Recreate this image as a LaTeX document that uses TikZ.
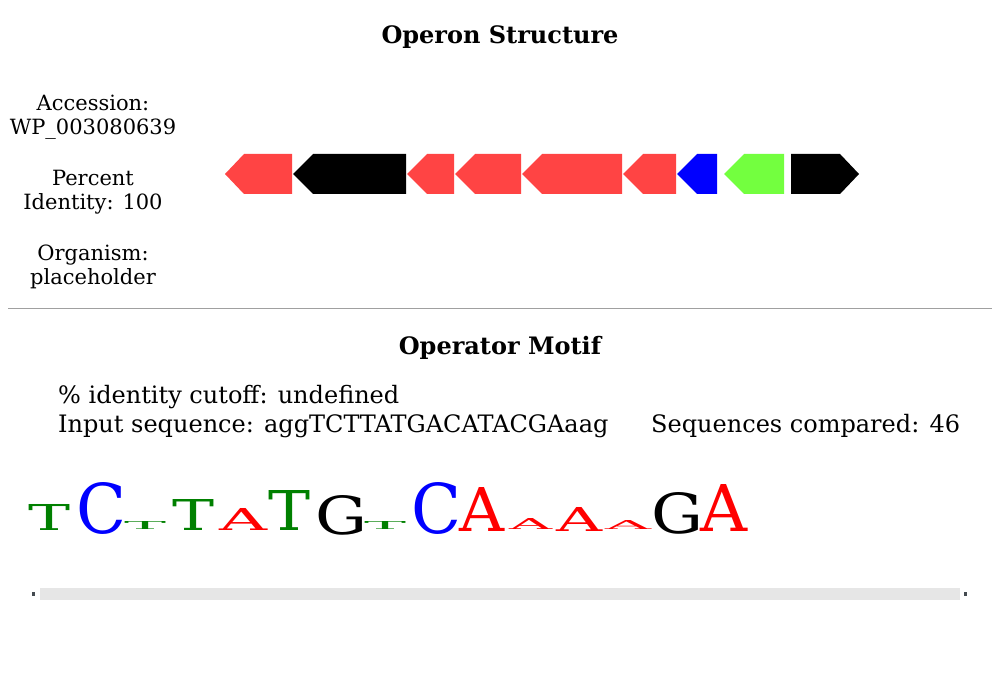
\documentclass[tikz,border=0pt]{standalone}
\usepackage{fontspec}
\setmainfont{DejaVu Serif}
\usepackage{graphicx}
\definecolor{gred}{HTML}{FF4444}
\definecolor{ggreen}{HTML}{73FF3F}
\definecolor{gblue}{HTML}{0000FF}
\definecolor{lgreen}{HTML}{008000}
\definecolor{lblue}{HTML}{0000FF}
\definecolor{lred}{HTML}{FF0000}
\definecolor{barbg}{HTML}{E6E6E6}
\definecolor{rulec}{HTML}{A0A0A0}
\definecolor{dotc}{HTML}{444A50}
\tikzset{
  lefttxt/.style={font=\fontsize{21}{24}\selectfont, anchor=base, inner sep=0},
  bodytxt/.style={font=\fontsize{24}{28}\selectfont, anchor=base west, inner sep=0},
  titletxt/.style={font=\bfseries\fontsize{24}{28}\selectfont, anchor=base, inner sep=0},
  letter/.style={inner sep=0, anchor=south west},
}
\newcommand\glyphbox[4]{\resizebox{#1pt}{#2pt}{\textcolor{#3}{#4}}}
\begin{document}
\begin{tikzpicture}[x=1pt,y=-1pt]
\useasboundingbox (0,0) rectangle (1000,700);
\fill[white] (0,0) rectangle (1000,700);
% titles
\node[titletxt] (t1) at (500,44) {Operon Structure};
\node[titletxt] (t2) at (500,354) {Operator Motif};
% left info
\node[lefttxt] (a1) at (93,111) {Accession:};
\node[lefttxt] (a2) at (93,135) {WP\_003080639};
\node[lefttxt] (p1) at (93,186) {Percent};
\node[lefttxt] (p2) at (93,210) {Identity: 100};
\node[lefttxt] (o1) at (93,261) {Organism:};
\node[lefttxt] (o2) at (93,285) {placeholder};
% genes
\fill[gred]   (225,174) -- (244,154) -- (292,154) -- (292,194) -- (244,194) -- cycle;
\fill[black]  (293,174) -- (313,154) -- (406,154) -- (406,194) -- (313,194) -- cycle;
\fill[gred]   (407,174) -- (427,154) -- (454,154) -- (454,194) -- (427,194) -- cycle;
\fill[gred]   (455,174) -- (475,154) -- (521,154) -- (521,194) -- (475,194) -- cycle;
\fill[gred]   (522,174) -- (542,154) -- (622,154) -- (622,194) -- (542,194) -- cycle;
\fill[gred]   (623,174) -- (643,154) -- (676,154) -- (676,194) -- (643,194) -- cycle;
\fill[gblue]  (677,174) -- (697,154) -- (717,154) -- (717,194) -- (697,194) -- cycle;
\fill[ggreen] (724,174) -- (744,154) -- (784,154) -- (784,194) -- (744,194) -- cycle;
\fill[black]  (791,154) -- (840,154) -- (859,174) -- (840,194) -- (791,194) -- cycle;
% separator
\draw[rulec, line width=1pt] (8,308) -- (992,308);
% motif info
\node[bodytxt] (c1) at (58,403) {\% identity cutoff: undefined};
\node[bodytxt] (c2) at (58,432) {Input sequence: aggTCTTATGACATACGAaag};
\node[bodytxt] (c3) at (651,432) {Sequences compared: 46};
% logo
\node[letter] (l1)  at (28,531)  {\glyphbox{42}{26}{lgreen}{T}};
\node[letter] (l2)  at (76,535)  {\glyphbox{50}{51}{lblue}{C}};
\node[letter] (l3)  at (124,530) {\glyphbox{42}{8}{lgreen}{T}};
\node[letter] (l4)  at (172,531) {\glyphbox{42}{31}{lgreen}{T}};
\node[letter] (l5)  at (219,531) {\glyphbox{48}{22}{lred}{A}};
\node[letter] (l6)  at (268,531) {\glyphbox{42}{40}{lgreen}{T}};
\node[letter] (l7)  at (315,535) {\glyphbox{52}{39}{black}{G}};
\node[letter] (l8)  at (364,530) {\glyphbox{42}{8}{lgreen}{T}};
\node[letter] (l9)  at (411,535) {\glyphbox{50}{51}{lblue}{C}};
\node[letter] (l10) at (459,532) {\glyphbox{45}{44}{lred}{A}};
\node[letter] (l11) at (509,530) {\glyphbox{43}{11}{lred}{A}};
\node[letter] (l12) at (556,532) {\glyphbox{46}{24}{lred}{A}};
\node[letter] (l13) at (605,530) {\glyphbox{46}{9}{lred}{A}};
\node[letter] (l14) at (651,534) {\glyphbox{52}{41}{black}{G}};
\node[letter] (l15) at (700,532) {\glyphbox{47}{47}{lred}{A}};
% slider bar
\fill[barbg] (40,588) rectangle (960,600);
\fill[dotc] (32,592) rectangle (35,596);
\fill[dotc] (964,592) rectangle (967,596);
\end{tikzpicture}
\end{document}
